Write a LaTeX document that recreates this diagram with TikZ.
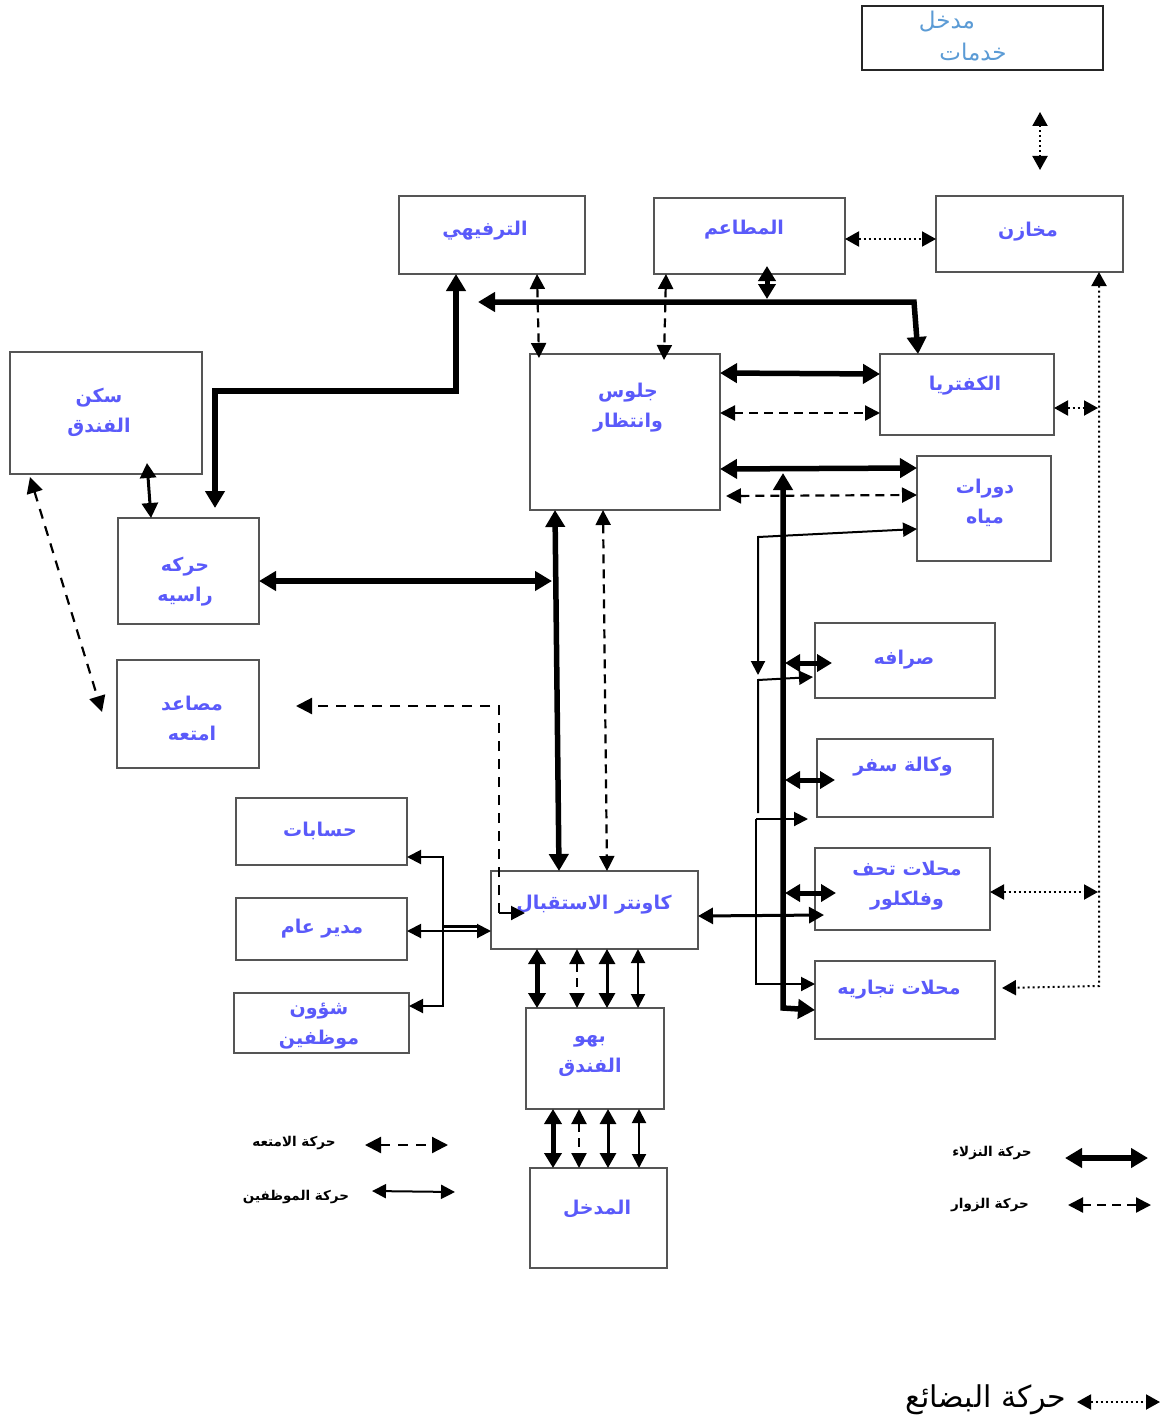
\documentclass[tikz,border=0pt]{standalone}
\usepackage{fontspec}
\usetikzlibrary{arrows.meta}
\newfontfamily\arabicfont[Script=Arabic]{DejaVu Sans}
\TeXXeTstate=1
\definecolor{boxtxt}{RGB}{90,90,250}
\definecolor{svctxt}{RGB}{91,155,213}
\definecolor{boxline}{RGB}{85,85,85}
\newcommand{\artx}[1]{\beginR #1\endR}
\newcommand{\bx}[6][box]{\node[#1, minimum width={#5-#3}, minimum height={#6-#4}] (#2) at ({(#3+#5)/2},{(#4+#6)/2}) {};}
\begin{document}
\begin{tikzpicture}[x=1pt,y=-1pt,
  box/.style={draw=boxline, line width=2.2pt, inner sep=0pt, outer sep=0pt, fill=white},
  svcbox/.style={draw=black!85, line width=2pt, inner sep=0pt, outer sep=0pt, fill=white},
  btxt/.style={font=\arabicfont\bfseries\fontsize{19}{30}\selectfont, text=boxtxt, align=center, inner sep=0pt},
  stxt/.style={font=\arabicfont\fontsize{23}{30}\selectfont, text=svctxt, inner sep=0pt},
  legtxt/.style={font=\arabicfont\bfseries\fontsize{13.5}{15}\selectfont, text=black, inner sep=0pt},
  guest/.style={line width=5.5pt, >={Triangle[length=17pt,width=19pt]}},
  guestb/.style={line width=5pt, >={Triangle[length=15pt,width=17pt]}},
  visit/.style={line width=2.2pt, dash pattern=on 9pt off 6pt, >={Triangle[length=15pt,width=15pt]}},
  lugg/.style={line width=2.2pt, dash pattern=on 10pt off 8pt, >={Triangle[length=16pt,width=16pt]}},
  emp/.style={line width=2pt, >={Triangle[length=14pt,width=14pt]}},
  empb/.style={line width=3pt, >={Triangle[length=15pt,width=16pt]}},
  goods/.style={line width=2pt, dash pattern=on 2pt off 3pt, >={Triangle[length=14pt,width=15pt]}}
]
\useasboundingbox[fill=white] (0,0) rectangle (1165,1423);

% boxes
\bx[svcbox]{svc}{862}{6}{1103}{70}
\bx{tarf}{399}{196}{585}{274}
\bx{mataem}{654}{198}{845}{274}
\bx{makh}{936}{196}{1123}{272}
\bx{sakan}{10}{352}{202}{474}
\bx{jul}{530}{354}{720}{510}
\bx{kaf}{880}{354}{1054}{435}
\bx{wc}{917}{456}{1051}{561}
\bx{lift}{118}{518}{259}{624}
\bx{lug}{117}{660}{259}{768}
\bx{sarf}{815}{623}{995}{698}
\bx{travel}{817}{739}{993}{817}
\bx{gift}{815}{848}{990}{930}
\bx{shops}{815}{961}{995}{1039}
\bx{acc}{236}{798}{407}{865}
\bx{gm}{236}{898}{407}{960}
\bx{hr}{234}{993}{409}{1053}
\bx{rec}{491}{871}{698}{949}
\bx{lobby}{526}{1008}{664}{1109}
\bx{entr}{530}{1168}{667}{1268}

% texts
\node[stxt] (svc-t1) at (947,22) {\artx{مدخل}};
\node[stxt] (svc-t2) at (973,52) {\artx{خدمات}};
\node[btxt] (tarf-t) at (485,231) {\artx{الترفيهي}};
\node[btxt] (mataem-t) at (744,230) {\artx{المطاعم}};
\node[btxt] (makh-t) at (1028,232) {\artx{مخازن}};
\node[btxt] (sakan-t) at (99,412) {\artx{سكن}\\\artx{الفندق}};
\node[btxt] (jul-t) at (628,408) {\artx{جلوس}\\\artx{وانتظار}};
\node[btxt] (kaf-t) at (965,386) {\artx{الكفتريا}};
\node[btxt] (wc-t) at (985,503) {\artx{دورات}\\\artx{مياه}};
\node[btxt] (lift-t) at (185,582) {\artx{حركه}\\\artx{راسيه}};
\node[btxt] (lug-t) at (192,718) {\artx{مصاعد}\\\artx{امتعه}};
\node[btxt] (sarf-t) at (904,660) {\artx{صرافه}};
\node[btxt] (travel-t) at (903,767) {\artx{وكالة سفر}};
\node[btxt] (gift-t) at (907,886) {\artx{محلات تحف}\\\artx{وفلكلور}};
\node[btxt] (shops-t) at (899,990) {\artx{محلات تجاريه}};
\node[btxt] (acc-t) at (320,831) {\artx{حسابات}};
\node[btxt] (gm-t) at (322,929) {\artx{مدير عام}};
\node[btxt] (hr-t) at (319,1026) {\artx{شؤون}\\\artx{موظفين}};
\node[btxt] (rec-t) at (594,905) {\artx{كاونتر الاستقبال}};
\node[btxt] (lobby-t) at (590,1056) {\artx{بهو}\\\artx{الفندق}};
\node[btxt] (entr-t) at (597,1209) {\artx{المدخل}};

% free-end coordinates
\coordinate (a1) at (1040,112); \coordinate (a2) at (1040,170);
\coordinate (c1) at (215,508);
\coordinate (d0) at (478,302);
\coordinate (e0) at (767,266);
\coordinate (e1) at (767,299);
\coordinate (lugA) at (296,706);

% goods
\draw[goods,<->] (a1) -- (a2);
\draw[goods,<->] (mataem.east |- 0,239) -- (makh.west |- 0,239);
\draw[goods,<->] (1099,0 |- makh.south) -- (1099,986) -- (1002,988);
\draw[goods,<->] (kaf.east |- 0,408) -- (1098,408);
\draw[goods,<->] (gift.east |- 0,892) -- (1098,892);

% guests (thick)
\draw[guest,<->] (456,0 |- tarf.south) -- (456,391) -- (215,391) -- (c1);
\draw[guest,<->] (d0) -- (914,302) -- (918,0 |- kaf.north);
\draw[guestb,<->] (e0) -- (e1);
\draw[guest,<->] (jul.east |- 0,373) -- (kaf.west |- 0,374);
\draw[guest,<->] (jul.east |- 0,469) -- (wc.west |- 0,468);
\draw[guest,<->] (783,473) -- (783,1008) -- (shops.west |- 0,1010);
\draw[guestb,<->] (785,663) -- (832,663);
\draw[guestb,<->] (785,780) -- (835,780);
\draw[guestb,<->] (785,893) -- (836,893);
\draw[guest,<->] (555,0 |- jul.south) -- (559,0 |- rec.north);
\draw[guest,<->] (lift.east |- 0,581) -- (552,581);

% visitors (dashed)
\draw[visit,<->] (537,0 |- tarf.south) -- (539,358);
\draw[visit,<->] (666,0 |- mataem.south) -- (664,360);
\draw[visit,<->] (jul.east |- 0,413) -- (kaf.west |- 0,413);
\draw[visit,<->] (726,496) -- (wc.west |- 0,495);
\draw[visit,<->] (603,0 |- jul.south) -- (607,0 |- rec.north);

% luggage
\draw[lugg,->] (499,913) -- (499,706) -- (lugA);
\draw[emp,->] (499,913) -- (525,913);
\draw[lugg,<->] (30,477) -- (102,712);

% employees (thin)
\draw[empb,<->] (rec.east |- 0,916) -- (824,915);
\draw[emp,<->] (758,675) -- (758,537) -- (wc.west |- 0,529);
\draw[emp,->] (758,813) -- (758,680) -- (813,677);
\draw[emp,->] (756,819) -- (808,819);
\draw[emp,->] (756,819) -- (756,984) -- (shops.west |- 0,984);
\draw[empb,<->] (147,463) -- (151,0 |- lift.north);
\draw[emp,<->] (acc.east |- 0,857) -- (443,857) -- (443,1006) -- (hr.east |- 0,1006);
\draw[emp,<->] (gm.east |- 0,931) -- (rec.west |- 0,931);
\draw[line width=3pt] (443,926) -- (478,926);

% reception <-> lobby <-> entrance
\draw[guestb,<->] (537,0 |- rec.south) -- (537,0 |- lobby.north);
\draw[visit,<->] (577,0 |- rec.south) -- (577,0 |- lobby.north);
\draw[empb,<->] (607,0 |- rec.south) -- (607,0 |- lobby.north);
\draw[emp,<->] (638,0 |- rec.south) -- (638,0 |- lobby.north);
\draw[guestb,<->] (553,0 |- lobby.south) -- (553,0 |- entr.north);
\draw[visit,<->] (579,0 |- lobby.south) -- (579,0 |- entr.north);
\draw[empb,<->] (608,0 |- lobby.south) -- (608,0 |- entr.north);
\draw[emp,<->] (639,0 |- lobby.south) -- (639,0 |- entr.north);

% legend
\node[legtxt] (lg1) at (294,1143) {\artx{حركة الامتعه}};
\coordinate (lg1a) at (365,1145); \coordinate (lg1b) at (448,1145);
\draw[lugg,<->] (lg1a) -- (lg1b);
\node[legtxt] (lg2) at (296,1197) {\artx{حركة الموظفين}};
\coordinate (lg2a) at (372,1191); \coordinate (lg2b) at (455,1192);
\draw[emp,<->] (lg2a) -- (lg2b);
\node[legtxt] (lg3) at (992,1153) {\artx{حركة النزلاء}};
\coordinate (lg3a) at (1065,1158); \coordinate (lg3b) at (1148,1158);
\draw[guest,<->] (lg3a) -- (lg3b);
\node[legtxt] (lg4) at (990,1205) {\artx{حركة الزوار}};
\coordinate (lg4a) at (1068,1205); \coordinate (lg4b) at (1151,1205);
\draw[visit,<->] (lg4a) -- (lg4b);
\node[font=\arabicfont\fontsize{30}{34}\selectfont, inner sep=0pt] (lg5) at (986,1400) {\artx{حركة البضائع}};
\coordinate (lg5a) at (1077,1402); \coordinate (lg5b) at (1160,1402);
\draw[goods,<->] (lg5a) -- (lg5b);
\end{tikzpicture}
\end{document}
